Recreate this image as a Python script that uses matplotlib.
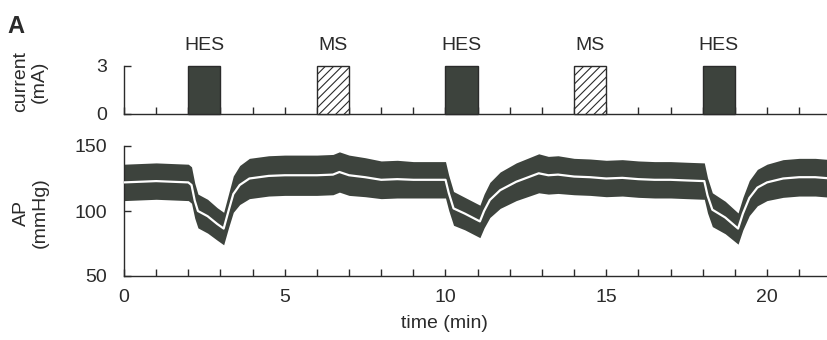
import matplotlib.pyplot as plt
from matplotlib.ticker import MultipleLocator

plt.rcParams['font.family'] = ['Liberation Sans', 'DejaVu Sans']
plt.rcParams['hatch.linewidth'] = 0.8

# stimulation blocks (min)
stim_start = [2, 6, 10, 14, 18]
stim_dur = [1, 1, 1, 1, 1]
stim_label = ['HES', 'MS', 'HES', 'MS', 'HES']
stim_current = [3, 3, 3, 3, 3]

# arterial pressure, mean and SD (mmHg)
time = [0, 0.5, 1, 1.5, 2.0, 2.1, 2.2, 2.3, 2.6, 2.9,
        3.1, 3.25, 3.4, 3.6, 3.9, 4.5, 5, 5.5, 6, 6.5,
        6.7, 7, 7.5, 8, 8.5, 9, 9.5, 10.0, 10.1, 10.25,
        10.6, 11.07, 11.2, 11.38, 11.7, 12.2, 12.9, 13.2, 13.5, 14,
        14.5, 15, 15.5, 16, 16.5, 17, 17.5, 18.05, 18.15, 18.3,
        18.7, 19.1, 19.25, 19.45, 19.7, 20.0, 20.5, 21, 21.5, 22]
ap_mean = [122, 122.5, 123, 122.5, 122, 120, 108, 100, 96, 90,
           86.5, 100, 113, 120, 125, 127, 127.5, 127.5, 127.5, 128,
           130, 127.5, 126, 124, 124.5, 124, 124, 124, 114, 102,
           98, 92, 100, 108.5, 116, 122.5, 129, 127.5, 128, 126.5,
           126, 125, 125.5, 124.5, 124, 124, 123.5, 123, 112, 101,
           95, 86.5, 98, 110, 118, 122, 125, 126, 126, 125]
ap_sd = [14, 14, 14, 14, 14, 14, 13.5, 13, 13, 12.5,
         12.5, 13, 14, 15, 15.5, 15.5, 15.5, 15.5, 15.5, 15.5,
         15.5, 15.5, 15, 14.5, 14.5, 14, 14, 14, 13.5, 13,
         12.5, 12.5, 13, 13.5, 14, 14.5, 15, 14.5, 14.5, 14,
         14, 14, 14, 14, 14, 14, 14, 14, 13.5, 13,
         12.5, 12, 12.5, 13.5, 14, 14, 14.5, 14.5, 14.5, 14.5]

dark = '#3d433d'
ink = '#2b2b2b'

W, H = 828, 340
fig = plt.figure(figsize=(W / 100, H / 100), dpi=100)
left = 124 / W
xmax = (W - 124) / 32.15

ax1 = fig.add_axes([left, 1 - 114 / H, 1 - left, 48 / H])
ax2 = fig.add_axes([left, 1 - 276 / H, 1 - left, 130 / H])

for ax in (ax1, ax2):
    ax.spines['top'].set_visible(False)
    ax.spines['right'].set_visible(False)
    for s in ('left', 'bottom'):
        ax.spines[s].set_color(ink)
        ax.spines[s].set_linewidth(1.0)
    ax.set_xlim(0, xmax)
    ax.xaxis.set_minor_locator(MultipleLocator(1))
    ax.tick_params(which='both', direction='in', length=5, width=1,
                   color=ink, labelcolor=ink, labelsize=14)
    ax.tick_params(axis='y', pad=12)
    ax.tick_params(axis='x', pad=9)

# top panel: stimulation current
for s, d, lab, c in zip(stim_start, stim_dur, stim_label, stim_current):
    if lab == 'HES':
        ax1.bar(s, c, width=d, align='edge', color=dark, edgecolor=ink,
                linewidth=1, clip_on=False, zorder=3)
    else:
        ax1.bar(s, c, width=d, align='edge', color='white', edgecolor=ink,
                hatch='////', linewidth=1, clip_on=False, zorder=3)
    ax1.text(s + d / 2, c + 1.0, lab, ha='center', va='baseline',
             fontsize=14, color=ink)
ax1.set_ylim(0, 3)
ax1.set_yticks([0, 3])
ax1.xaxis.set_major_locator(MultipleLocator(1))
ax1.set_xticklabels([])

# bottom panel: arterial pressure
lo = [m - s for m, s in zip(ap_mean, ap_sd)]
hi = [m + s for m, s in zip(ap_mean, ap_sd)]
ax2.fill_between(time, lo, hi, color=dark, linewidth=0, zorder=2)
ax2.plot(time, ap_mean, color='white', linewidth=1.6, zorder=3)
ax2.set_ylim(50, 150)
ax2.set_yticks([50, 100, 150])
ax2.xaxis.set_major_locator(MultipleLocator(5))
ax2.set_xlabel('time (min)', fontsize=14, color=ink)
ax2.xaxis.set_label_coords((444 - 124) / (W - 124), -0.30)

fig.text(30 / W, 1 - 82 / H, 'current\n(mA)', rotation=90, ha='center',
         va='center', multialignment='center', fontsize=14, color=ink,
         linespacing=1.15)
fig.text(31 / W, 1 - 213 / H, 'AP\n(mmHg)', rotation=90, ha='center',
         va='center', multialignment='center', fontsize=14, color=ink,
         linespacing=1.15)
fig.text(7 / W, 1 - 33 / H, 'A', fontsize=17, fontweight='bold',
         color=ink, ha='left', va='baseline')

fig.savefig('out.png', dpi=100, facecolor='white')
